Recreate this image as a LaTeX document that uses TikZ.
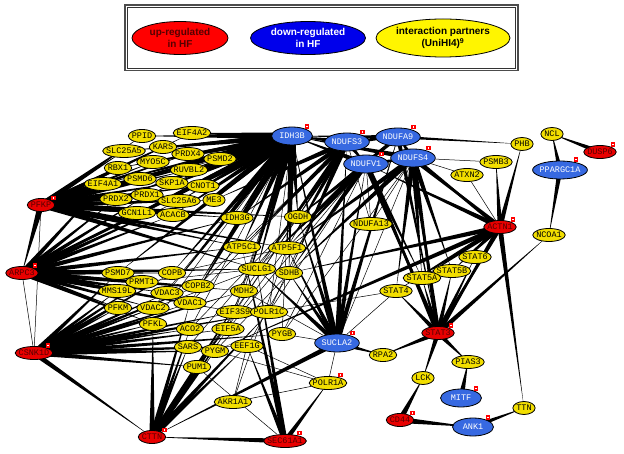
\documentclass[tikz,border=0pt]{standalone}
\usepackage{fontspec}
\setmainfont{Liberation Sans}
\newfontfamily\genefont{Liberation Mono}
\usetikzlibrary{shapes.geometric,calc}

\definecolor{upred}{RGB}{232,0,0}
\definecolor{uptext}{RGB}{85,0,0}
\definecolor{downblue}{RGB}{55,105,225}
\definecolor{partneryellow}{RGB}{242,222,0}
\definecolor{keyblue}{RGB}{0,0,235}
\definecolor{keyyellow}{RGB}{255,245,0}

\pgfdeclarelayer{edges}
\pgfsetlayers{edges,main}

% tapered edge: thick at the hub #1, pointed at #2
\newcommand{\spoke}[3]{\fill ($(#1.center)!#3!90:(#2.center)$) -- ($(#1.center)!#3!-90:(#2.center)$) -- (#2.center) -- cycle;}

\tikzset{
	gene/.style={ellipse, draw=black, line width=0.8pt, inner sep=0pt, inner xsep=-30pt,
		minimum height=13pt, minimum width=#1*5.1pt+7pt,
		font=\genefont\fontsize{8.5pt}{9pt}\selectfont, text height=5pt, text depth=0pt},
	partner/.style={gene=#1, fill=partneryellow},
	upgene/.style={gene=#1, fill=upred, text=uptext, label={[flagbox]25:{}}},
	downgene/.style={gene=#1, fill=downblue, text=white, minimum height=18pt,
		minimum width={max(41,#1*5.1+14)*1pt}, label={[flagbox]30:{}}},
	flagbox/.style={draw=red, fill=white, line width=1.4pt, minimum size=3pt, inner sep=0pt},
	key/.style={ellipse, draw=black, line width=0.8pt, inner sep=0pt, inner xsep=-40pt, inner ysep=-20pt,
		font=\bfseries\fontsize{10pt}{12.5pt}\selectfont, align=center},
	thinedge/.style={line width=0.5pt},
}

\begin{document}
\begin{tikzpicture}[x=1pt,y=-1pt]
	\useasboundingbox (0,0) rectangle (624,454);
	%legend
	\draw[line width=1.3pt, black!70] (125,5) rectangle (518,70.5);
	\draw[line width=0.6pt, black!80] (127.5,7.3) rectangle (515.5,68);
	\node[key, fill=red, text=uptext, minimum width=96pt, minimum height=33pt] (keyup) at (180,38) {up-regulated\\in HF};
	\node[key, fill=keyblue, text=white, minimum width=115pt, minimum height=33pt] (keydown) at (308,38) {down-regulated\\in HF};
	\node[key, fill=keyyellow, minimum width=134pt, minimum height=38pt] (keypartner) at (443,38) {interaction partners\\(UniHI4)\textsuperscript{9}};

	%interaction partners
	\node[partner=4] (PPID) at (142,136) {PPID};
	\node[partner=6] (EIF4A2) at (192,133) {EIF4A2};
	\node[partner=7] (SLC25A5) at (124,151) {SLC25A5};
	\node[partner=4] (KARS) at (163,147) {KARS};
	\node[partner=5] (PRDX4) at (188,154) {PRDX4};
	\node[partner=5] (MYO5C) at (153,162) {MYO5C};
	\node[partner=4] (RBX1) at (118,168) {RBX1};
	\node[partner=6] (RUVBL2) at (189,170) {RUVBL2};
	\node[partner=5] (PSMD2) at (220,159) {PSMD2};
	\node[partner=6] (EIF4A1) at (103,184) {EIF4A1};
	\node[partner=5] (PSMD6) at (140,179) {PSMD6};
	\node[partner=5] (SKP1A) at (172,183) {SKP1A};
	\node[partner=5] (CNOT1) at (203,186) {CNOT1};
	\node[partner=5] (PRDX2) at (116,199) {PRDX2};
	\node[partner=5] (PRDX1) at (147,195) {PRDX1};
	\node[partner=7] (SLC25A6) at (179,201) {SLC25A6};
	\node[partner=3] (ME3) at (214,200) {ME3};
	\node[partner=6] (GCN1L1) at (137,213) {GCN1L1};
	\node[partner=5] (ACACB) at (173,215) {ACACB};
	\node[partner=5] (IDH3G) at (237,218) {IDH3G};
	\node[partner=4] (OGDH) at (298,217) {OGDH};
	\node[partner=7] (NDUFA13) at (371,224) {NDUFA13};
	\node[partner=6] (ATP5C1) at (242,247) {ATP5C1};
	\node[partner=6] (ATP5F1) at (287,248) {ATP5F1};
	\node[partner=6] (SUCLG1) at (257,269) {SUCLG1};
	\node[partner=4] (SDHB) at (289,273) {SDHB};
	\node[partner=5] (PSMD7) at (118,273) {PSMD7};
	\node[partner=4] (COPB) at (172,273) {COPB};
	\node[partner=5] (PRMT1) at (142,282) {PRMT1};
	\node[partner=6] (MMS19L) at (117,291) {MMS19L};
	\node[partner=5] (VDAC3) at (167,293) {VDAC3};
	\node[partner=5] (COPB2) at (198,286) {COPB2};
	\node[partner=4] (MDH2) at (244,291) {MDH2};
	\node[partner=4] (PFKM) at (118,308) {PFKM};
	\node[partner=5] (VDAC2) at (153,308) {VDAC2};
	\node[partner=5] (VDAC1) at (190,303) {VDAC1};
	\node[partner=6] (EIF3S9) at (235,312) {EIF3S9};
	\node[partner=6] (POLR1C) at (269,312) {POLR1C};
	\node[partner=4] (PFKL) at (153,324) {PFKL};
	\node[partner=4] (ACO2) at (190,329) {ACO2};
	\node[partner=5] (EIF5A) at (228,329) {EIF5A};
	\node[partner=4] (PYGB) at (282,334) {PYGB};
	\node[partner=4] (SARS) at (188,347) {SARS};
	\node[partner=4] (PYGM) at (215,351) {PYGM};
	\node[partner=5] (EEF1G) at (247,346) {EEF1G};
	\node[partner=4] (PUM1) at (197,367) {PUM1};
	\node[partner=6] (AKR1A1) at (233,402) {AKR1A1};
	\node[partner=6, label={[flagbox]30:{}}] (POLR1A) at (328,383) {POLR1A};
	\node[partner=4] (RPA2) at (383,355) {RPA2};
	\node[partner=3] (PHB) at (522,144) {PHB};
	\node[partner=5] (PSMB3) at (496,162) {PSMB3};
	\node[partner=5] (ATXN2) at (467,175) {ATXN2};
	\node[partner=3] (NCL) at (552,134) {NCL};
	\node[partner=5] (NCOA1) at (549,235) {NCOA1};
	\node[partner=5] (STAT6) at (475,257) {STAT6};
	\node[partner=6] (STAT5B) at (452,271) {STAT5B};
	\node[partner=6] (STAT5A) at (422,278) {STAT5A};
	\node[partner=5] (STAT4) at (396,291) {STAT4};
	\node[partner=5] (PIAS3) at (468,362) {PIAS3};
	\node[partner=3] (LCK) at (423,378) {LCK};
	\node[partner=3] (TTN) at (524,408) {TTN};

	%up-regulated
	\node[upgene=4] (PFKP) at (41,205) {PFKP};
	\node[upgene=5] (ARPC3) at (22,273) {ARPC3};
	\node[upgene=6] (CSNK1D) at (34,353) {CSNK1D};
	\node[upgene=4] (CTTN) at (152,437) {CTTN};
	\node[upgene=7] (SEC61A1) at (285,441) {SEC61A1};
	\node[upgene=4] (CD44) at (400,420) {CD44};
	\node[upgene=5] (STAT3) at (438,333) {STAT3};
	\node[upgene=5] (ACTN1) at (500,227) {ACTN1};
	\node[upgene=5] (DUSP6) at (600,152) {DUSP6};

	%down-regulated
	\node[downgene=5] (IDH3B) at (292,136) {IDH3B};
	\node[downgene=6] (NDUFS3) at (347,142) {NDUFS3};
	\node[downgene=6] (NDUFA9) at (398,137) {NDUFA9};
	\node[downgene=6] (NDUFV1) at (366,164) {NDUFV1};
	\node[downgene=6] (NDUFS4) at (413,158) {NDUFS4};
	\node[downgene=8] (PPARGC1A) at (560,170) {PPARGC1A};
	\node[downgene=6] (SUCLA2) at (337,343) {SUCLA2};
	\node[downgene=4] (MITF) at (461,398) {MITF};
	\node[downgene=4] (ANK1) at (473,427) {ANK1};

	\begin{pgfonlayer}{edges}
		%thick edges
		\foreach \t in {PPID,EIF4A2,SLC25A5,KARS,PRDX4,MYO5C,RBX1,RUVBL2,PSMD2,EIF4A1,PSMD6,SKP1A,CNOT1,PRDX2,PRDX1,SLC25A6,ME3,GCN1L1,ACACB,IDH3G,OGDH,ATP5C1,ATP5F1,SUCLG1,IDH3B}
			\spoke{PFKP}{\t}{2.8pt};
		\spoke{PFKP}{ARPC3}{3.2pt}
		\foreach \t in {PPID,EIF4A2,SLC25A5,KARS,PRDX4,MYO5C,RBX1,RUVBL2,PSMD2,EIF4A1,PSMD6,SKP1A,CNOT1,PRDX2,PRDX1,SLC25A6,ME3,GCN1L1,ACACB,IDH3G,OGDH,ATP5C1,ATP5F1,SUCLG1,SDHB,MDH2,ARPC3,PSMD7,COPB,COPB2,VDAC1,VDAC3}
			\spoke{IDH3B}{\t}{3.5pt};
		\foreach \t in {PSMD7,PRMT1,MMS19L,COPB,VDAC3,COPB2,PFKM,VDAC2,VDAC1,PFKL,EIF4A1,PRDX2,GCN1L1,ACACB,SLC25A6,PRDX1,IDH3G,ATP5C1,MDH2,SUCLG1,EIF3S9}
			\spoke{ARPC3}{\t}{2.6pt};
		\foreach \t in {PSMD7,PRMT1,MMS19L,PFKM,VDAC2,VDAC3,VDAC1,PFKL,ACO2,SARS,PYGM,PUM1,EIF5A,EEF1G,EIF3S9,POLR1C,COPB,COPB2,MDH2,PYGB}
			\spoke{CSNK1D}{\t}{2.6pt};
		\spoke{CSNK1D}{CTTN}{2.5pt}
		\foreach \t in {PUM1,SARS,PYGM,ACO2,EIF5A,EEF1G,EIF3S9,PFKL,VDAC1,MDH2,POLR1C}
			\spoke{CTTN}{\t}{2.7pt};
		\foreach \t in {CTTN,EEF1G,SUCLG1,POLR1A,ATP5C1}
			\spoke{SEC61A1}{\t}{2.5pt};
		\foreach \t in {IDH3B,NDUFS3,NDUFV1,NDUFA9,OGDH,ATP5F1,SDHB,SUCLG1,CTTN,RPA2}
			\spoke{SUCLA2}{\t}{2.5pt};
		\foreach \t in {OGDH,ATP5F1,SDHB,ATP5C1,IDH3G,ME3,SUCLG1,IDH3B,NDUFA9,NDUFV1}
			\spoke{NDUFS3}{\t}{2.7pt};
		\foreach \t in {OGDH,ATP5F1,SDHB,SUCLG1,STAT3,STAT5A,NDUFS4,IDH3B}
			\spoke{NDUFV1}{\t}{2.7pt};
		\foreach \t in {STAT3,STAT5A,STAT5B,STAT4,ACTN1,SDHB,ATP5F1,NDUFA9,IDH3B}
			\spoke{NDUFS4}{\t}{2.7pt};
		\foreach \t in {IDH3B,STAT3,OGDH}
			\spoke{NDUFA9}{\t}{2pt};
		\spoke{NDUFA9}{PHB}{1.5pt}
		\foreach \t in {STAT5A,STAT5B,STAT6,STAT4,NCOA1,ACTN1,NDUFS4,NDUFV1,RPA2,PIAS3,LCK}
			\spoke{STAT3}{\t}{2.5pt};
		\foreach \t in {PHB,PSMB3,STAT3,TTN,STAT5A,STAT5B,STAT4,SDHB,PYGM,NDUFS4,NDUFV1}
			\spoke{ACTN1}{\t}{2.5pt};
		\spoke{CD44}{LCK}{3pt}
		\spoke{CD44}{ANK1}{3pt}
		\spoke{ANK1}{TTN}{2.5pt}
		\spoke{MITF}{PIAS3}{3pt}
		\spoke{PPARGC1A}{NCL}{2.5pt}
		\spoke{PPARGC1A}{NCOA1}{2.5pt}
		\spoke{DUSP6}{NCL}{2.5pt}
		%thin edges
		\foreach \a/\b in {ARPC3/CSNK1D,NDUFS4/PSMB3,NDUFS4/ATXN2,ATXN2/ACTN1,NDUFS3/NDUFA13,NDUFV1/NDUFA13,NDUFS4/NDUFA13,NDUFA9/NDUFA13,
			POLR1A/AKR1A1,AKR1A1/EEF1G,SUCLA2/POLR1A,SUCLA2/PYGB,SUCLA2/MDH2,SEC61A1/PUM1,
			IDH3B/PYGB,IDH3B/EIF5A,IDH3B/POLR1C,IDH3B/EIF3S9,IDH3B/ACO2,IDH3B/PFKL,IDH3B/VDAC2,
			NDUFS3/MDH2,NDUFS3/EIF3S9,NDUFS3/VDAC1,NDUFS3/COPB2,NDUFS3/POLR1C,NDUFV1/POLR1C,NDUFV1/PYGB,NDUFV1/EIF5A,
			NDUFS4/PYGB,NDUFS4/SUCLA2,OGDH/ACO2,OGDH/SARS,OGDH/PUM1,SDHB/EEF1G,SDHB/PYGM,ATP5F1/PUM1,ATP5F1/AKR1A1,
			POLR1A/EEF1G,POLR1A/PYGM,STAT4/POLR1C,STAT4/SUCLA2,PFKP/CSNK1D,CSNK1D/SUCLG1,PRMT1/SUCLG1,COPB/ATP5F1}
			\draw[thinedge] (\a) -- (\b);
	\end{pgfonlayer}
\end{tikzpicture}
\end{document}
